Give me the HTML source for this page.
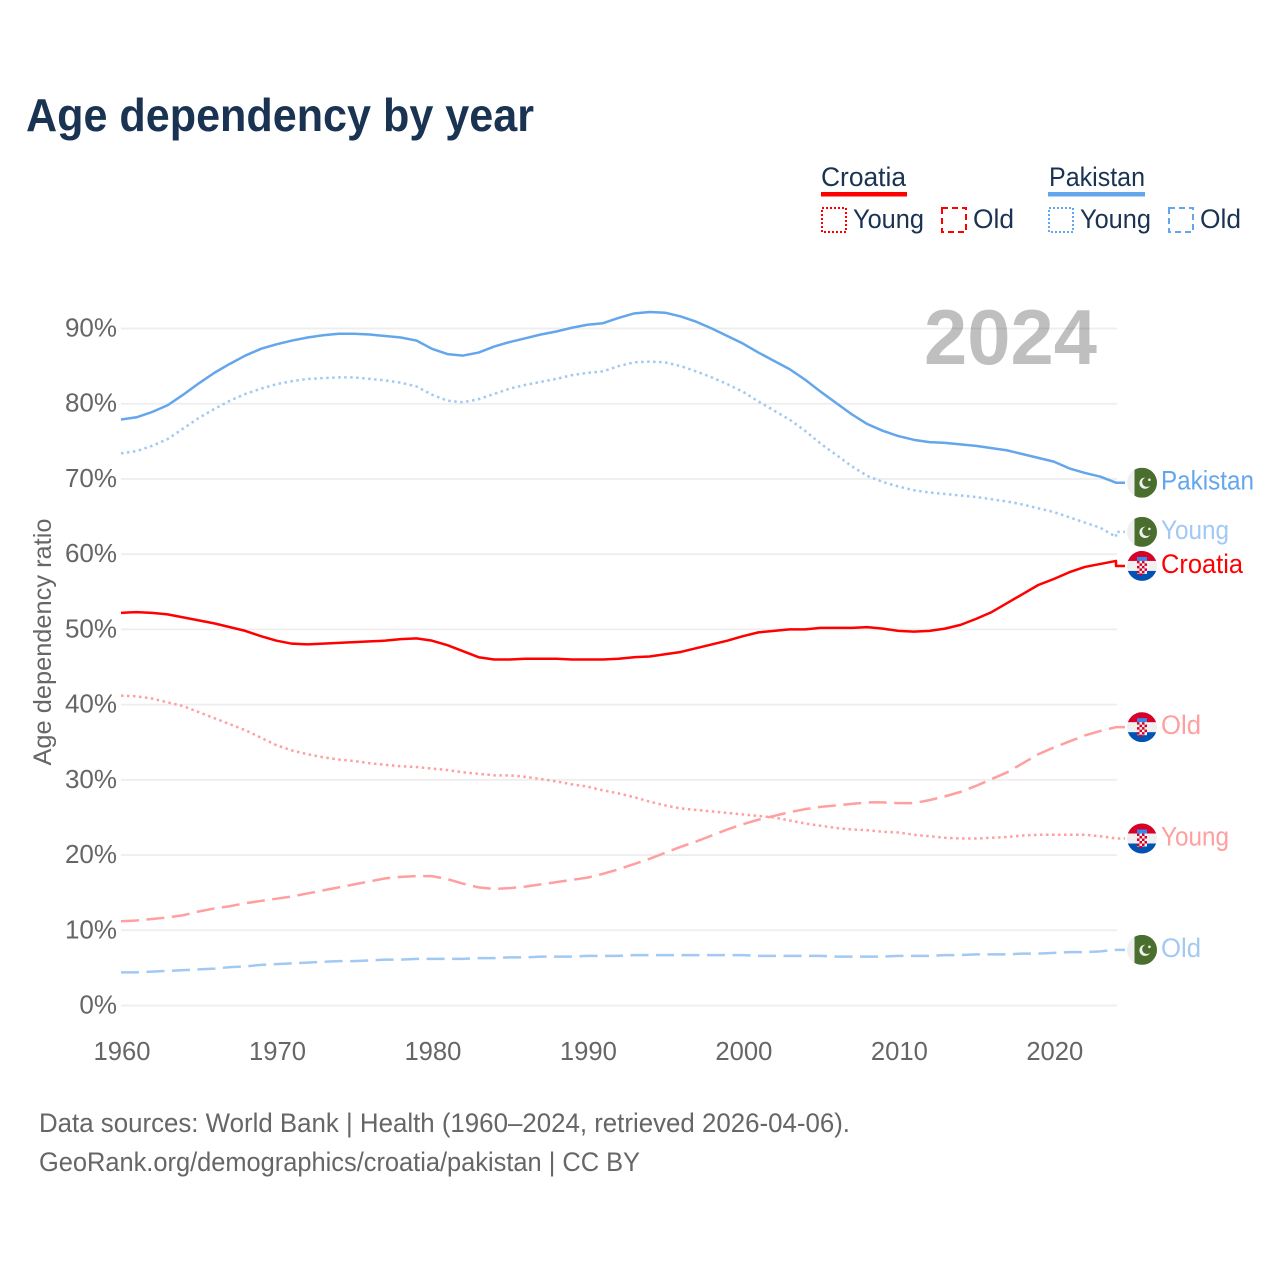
<!DOCTYPE html>
<html lang="en">
<head>
<meta charset="utf-8">
<title>Age dependency by year</title>
<style>
  html, body { margin: 0; padding: 0; background: #fff; }
  svg { display: block; font-family: "Liberation Sans", sans-serif; }
</style>
</head>
<body>
<svg id="chart" xmlns="http://www.w3.org/2000/svg" width="1280" height="1280" viewBox="0 0 1280 1280">
  <defs>
    <clipPath id="flag-clip"><circle cx="0" cy="0" r="15"/></clipPath>
    <symbol id="flag-pk" overflow="visible" viewBox="-15 -15 30 30" width="30" height="30">
      <g clip-path="url(#flag-clip)">
        <rect x="-15" y="-15" width="30" height="30" fill="#f0f0f0"/>
        <rect x="-7.5" y="-15" width="22.5" height="30" fill="#496e2d"/>
        <circle cx="3" cy="0.5" r="5.6" fill="#f0f0f0"/>
        <circle cx="5" cy="-0.6" r="4.8" fill="#496e2d"/>
        <circle cx="7.4" cy="-3" r="1.3" fill="#f0f0f0"/>
      </g>
    </symbol>
    <symbol id="flag-hr" overflow="visible" viewBox="-15 -15 30 30" width="30" height="30">
      <g clip-path="url(#flag-clip)">
        <rect x="-15" y="-15" width="30" height="30" fill="#f0f0f0"/>
        <rect x="-15" y="-15" width="30" height="10" fill="#d80027"/>
        <rect x="-15" y="5" width="30" height="10" fill="#0052b4"/>
        <rect x="-5" y="-9" width="10" height="4" fill="#338af3"/>
        <rect x="-5" y="-5" width="10" height="13" fill="#f0f0f0"/>
        <path d="M-5 -5h2.5v2.5h-2.5zM0 -5h2.5v2.5h-2.5zM-2.5 -2.5h2.5v2.5h-2.5zM2.5 -2.5h2.5v2.5h-2.5zM-5 0h2.5v2.5h-2.5zM0 0h2.5v2.5h-2.5zM-2.5 2.5h2.5v2.5h-2.5zM2.5 2.5h2.5v2.5h-2.5zM-5 5h2.5v2.5h-2.5zM0 5h2.5v2.5h-2.5zM-2.5 7.5h2.5v2.5h-2.5z" fill="#d80027"/>
      </g>
    </symbol>
  </defs>

  <text x="26" y="131" font-size="46" font-weight="700" fill="#1a3353" textLength="508" lengthAdjust="spacingAndGlyphs">Age dependency by year</text>

  <g font-size="27" fill="#1a3353">
    <g>
      <text x="821" y="186" textLength="85" lengthAdjust="spacingAndGlyphs">Croatia</text>
      <rect x="821" y="192" width="86" height="4.5" fill="#ff0000"/>
      <rect x="822" y="208" width="24" height="24" fill="none" stroke="#ff0000" stroke-width="2" stroke-dasharray="2 2"/>
      <text x="853" y="228" textLength="71" lengthAdjust="spacingAndGlyphs">Young</text>
      <rect x="942" y="208" width="24" height="24" fill="none" stroke="#ff0000" stroke-width="2" stroke-dasharray="6 4"/>
      <text x="973" y="228" textLength="41" lengthAdjust="spacingAndGlyphs">Old</text>
    </g>
    <g>
      <text x="1049" y="186" textLength="96" lengthAdjust="spacingAndGlyphs">Pakistan</text>
      <rect x="1048" y="192" width="97" height="4.5" fill="#63a6ec"/>
      <rect x="1049" y="208" width="24" height="24" fill="none" stroke="#63a6ec" stroke-width="2" stroke-dasharray="2 2"/>
      <text x="1080" y="228" textLength="71" lengthAdjust="spacingAndGlyphs">Young</text>
      <rect x="1169" y="208" width="24" height="24" fill="none" stroke="#63a6ec" stroke-width="2" stroke-dasharray="6 4"/>
      <text x="1200" y="228" textLength="41" lengthAdjust="spacingAndGlyphs">Old</text>
    </g>
  </g>

  <g id="grid"></g>
  <g id="y-ticks" font-size="26" fill="#666666" text-anchor="end"></g>
  <g id="x-ticks" font-size="26" fill="#666666" text-anchor="middle"></g>
  <text transform="translate(51 642) rotate(-90)" font-size="25" fill="#666666" text-anchor="middle" textLength="247" lengthAdjust="spacingAndGlyphs">Age dependency ratio</text>

  <text x="924" y="364" font-size="78" font-weight="700" fill="#000000" fill-opacity="0.25" textLength="173" lengthAdjust="spacingAndGlyphs">2024</text>

  <g id="series"></g>
  <g id="end-labels" font-size="27"></g>

  <text x="39" y="1132" font-size="27" fill="#666666" textLength="811" lengthAdjust="spacingAndGlyphs">Data sources: World Bank | Health (1960–2024, retrieved 2026-04-06).</text>
  <text x="39" y="1171" font-size="27" fill="#666666" textLength="601" lengthAdjust="spacingAndGlyphs">GeoRank.org/demographics/croatia/pakistan | CC BY</text>
</svg>

<script>
const startYear = 1960;
const yTickValues = [0, 10, 20, 30, 40, 50, 60, 70, 80, 90];
const xTickValues = [1960, 1970, 1980, 1990, 2000, 2010, 2020];

const pakistanTotal = [77.9,78.2,78.9,79.8,81.2,82.7,84.1,85.3,86.4,87.3,87.9,88.4,88.8,89.1,89.3,89.3,89.2,89.0,88.8,88.4,87.3,86.6,86.4,86.8,87.6,88.2,88.7,89.2,89.6,90.1,90.5,90.7,91.4,92.0,92.2,92.1,91.6,90.9,90.0,89.0,88.0,86.8,85.7,84.6,83.2,81.6,80.1,78.6,77.3,76.4,75.7,75.2,74.9,74.8,74.6,74.4,74.1,73.8,73.3,72.8,72.3,71.4,70.8,70.3,69.5];
const pakistanYoung = [73.4,73.7,74.4,75.3,76.7,78.1,79.3,80.4,81.3,82.0,82.6,83.0,83.3,83.4,83.5,83.5,83.3,83.1,82.8,82.3,81.2,80.4,80.2,80.6,81.3,82.0,82.5,82.9,83.3,83.8,84.1,84.3,85.0,85.5,85.6,85.5,85.0,84.3,83.5,82.6,81.6,80.3,79.1,77.9,76.4,74.7,73.2,71.7,70.4,69.6,69.0,68.5,68.2,68.0,67.8,67.6,67.3,67.0,66.6,66.1,65.6,64.9,64.2,63.5,62.3];
const pakistanOld = [4.4,4.4,4.5,4.6,4.7,4.8,4.9,5.1,5.2,5.4,5.5,5.6,5.7,5.8,5.9,5.9,6.0,6.1,6.1,6.2,6.2,6.2,6.2,6.3,6.3,6.4,6.4,6.5,6.5,6.5,6.6,6.6,6.6,6.7,6.7,6.7,6.7,6.7,6.7,6.7,6.7,6.6,6.6,6.6,6.6,6.6,6.5,6.5,6.5,6.5,6.6,6.6,6.6,6.7,6.7,6.8,6.8,6.8,6.9,6.9,7.0,7.1,7.1,7.2,7.4];
const croatiaTotal = [52.2,52.3,52.2,52.0,51.6,51.2,50.8,50.3,49.8,49.1,48.5,48.1,48.0,48.1,48.2,48.3,48.4,48.5,48.7,48.8,48.5,47.9,47.1,46.3,46.0,46.0,46.1,46.1,46.1,46.0,46.0,46.0,46.1,46.3,46.4,46.7,47.0,47.5,48.0,48.5,49.1,49.6,49.8,50.0,50.0,50.2,50.2,50.2,50.3,50.1,49.8,49.7,49.8,50.1,50.6,51.4,52.3,53.5,54.7,55.9,56.7,57.6,58.3,58.7,59.1];
const croatiaYoung = [41.2,41.1,40.8,40.3,39.8,39.0,38.2,37.4,36.6,35.6,34.6,33.9,33.4,33.0,32.7,32.5,32.2,32.0,31.8,31.7,31.5,31.3,31.0,30.8,30.6,30.6,30.4,30.1,29.8,29.4,29.1,28.6,28.2,27.7,27.1,26.6,26.2,26.0,25.8,25.6,25.4,25.2,25.0,24.6,24.2,23.9,23.6,23.4,23.3,23.1,23.0,22.7,22.5,22.3,22.2,22.2,22.3,22.4,22.6,22.7,22.7,22.7,22.7,22.5,22.2];
const croatiaOld = [11.2,11.3,11.5,11.7,12.0,12.5,12.9,13.2,13.6,13.9,14.2,14.5,14.9,15.3,15.7,16.1,16.5,16.9,17.1,17.2,17.2,16.8,16.2,15.7,15.5,15.6,15.8,16.1,16.4,16.7,17.0,17.5,18.1,18.8,19.5,20.3,21.1,21.8,22.6,23.4,24.1,24.7,25.2,25.7,26.1,26.4,26.6,26.8,27.0,27.0,26.9,26.9,27.3,27.8,28.4,29.2,30.1,31.0,32.2,33.4,34.3,35.1,35.9,36.5,37.0];

const NS = 'http://www.w3.org/2000/svg';
const XLINK = 'http://www.w3.org/1999/xlink';
function xScale(year) { return 121 + (year - 1960) * (1116 - 121) / 64; }
function yScale(v) { return 1005.5 - v * (1005.5 - 328.5) / 90; }
function make(tag, parent, attrs) {
  const el = document.createElementNS(NS, tag);
  for (const k in attrs) el.setAttribute(k, attrs[k]);
  parent.appendChild(el);
  return el;
}

const grid = document.getElementById('grid');
const yTicks = document.getElementById('y-ticks');
yTickValues.forEach(function (v) {
  const line = make('line', grid, { x1: 121, x2: 1117, y1: yScale(v), y2: yScale(v), stroke: '#eeeeee', 'stroke-width': 1.8 });
  
  
  const label = make('text', yTicks, { x: 117, y: yScale(v) + 8 });
  
  
  label.textContent = v + '%';
});

const xTicks = document.getElementById('x-ticks');
xTickValues.forEach(function (yr) {
  const label = make('text', xTicks, { x: xScale(yr) + 1, y: 1060, textLength: 57, lengthAdjust: 'spacingAndGlyphs' });
  
  
  label.textContent = yr;
});

const seriesList = [
  { key: 'pakistan-young', values: pakistanYoung, color: '#a1c9f3', dash: '2.5 3.5', label: 'Young', labelWidth: 68, flag: 'flag-pk', dy: -5 },
  { key: 'pakistan-old', values: pakistanOld, color: '#a1c9f3', dash: '18 7.5', label: 'Old', labelWidth: 40, flag: 'flag-pk', dy: 0 },
  { key: 'croatia-young', values: croatiaYoung, color: '#ff9f9f', dash: '2.5 3.5', label: 'Young', labelWidth: 68, flag: 'flag-hr', dy: 0 },
  { key: 'croatia-old', values: croatiaOld, color: '#ff9f9f', dash: '18 7.5', label: 'Old', labelWidth: 40, flag: 'flag-hr', dy: 0 },
  { key: 'pakistan-total', values: pakistanTotal, color: '#63a6ec', dash: '', label: 'Pakistan', labelWidth: 93, flag: 'flag-pk', dy: 0 },
  { key: 'croatia-total', values: croatiaTotal, color: '#ff0000', dash: '', label: 'Croatia', labelWidth: 82, flag: 'flag-hr', dy: 5 }
];

const seriesGroup = document.getElementById('series');
const labelGroup = document.getElementById('end-labels');
seriesList.forEach(function (s) {
  const pts = s.values.map(function (v, i) { return xScale(startYear + i).toFixed(2) + ',' + yScale(v).toFixed(2); });
  const last = s.values[s.values.length - 1];
  const yEnd = yScale(last);
  const yLab = yEnd + s.dy;
  pts.push('1116,' + yLab.toFixed(2));
  pts.push('1125,' + yLab.toFixed(2));
  const line = make('polyline', seriesGroup, { points: pts.join(' '), fill: 'none', stroke: s.color, 'stroke-width': 2.5, 'stroke-linejoin': 'round' });
  if (s.dash) line.setAttribute('stroke-dasharray', s.dash);
  
  

  const flag = make('use', labelGroup, { x: 1127, y: yLab - 15, width: 30, height: 30 });
  flag.setAttribute('href', '#' + s.flag);
  flag.setAttributeNS(XLINK, 'xlink:href', '#' + s.flag);
  
  

  const text = make('text', labelGroup, { x: 1161, y: yLab + 7, fill: s.color, textLength: s.labelWidth, lengthAdjust: 'spacingAndGlyphs' });
  
  
  text.textContent = s.label;
});
</script>
</body>
</html>
